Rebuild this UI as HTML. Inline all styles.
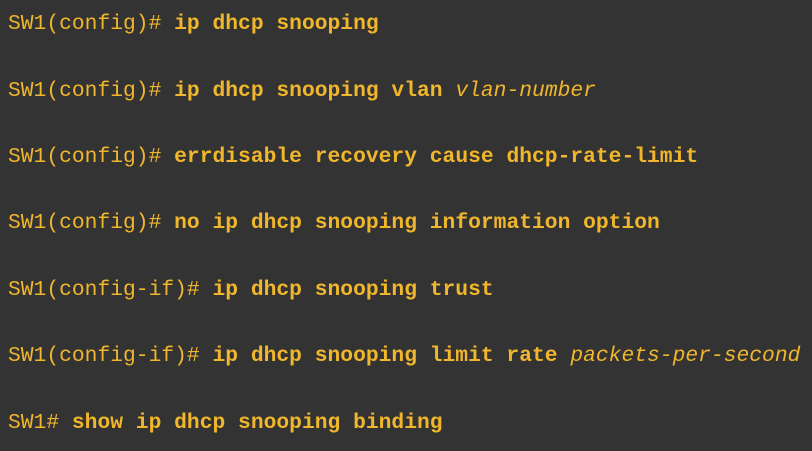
<!DOCTYPE html>
<html><head><style>
html,body{margin:0;padding:0;background:#333333;width:812px;height:451px;overflow:hidden}
.l{position:absolute;left:8px;font-family:"Liberation Mono","DejaVu Sans Mono",monospace;font-size:21.3px;line-height:24px;color:#f0b62c;white-space:pre}
b{font-weight:bold}
i{font-style:italic}
</style></head><body>
<div class="l" style="top:12px">SW1(config)# <b>ip dhcp snooping</b></div>
<div class="l" style="top:79px">SW1(config)# <b>ip dhcp snooping vlan</b> <i>vlan-number</i></div>
<div class="l" style="top:145px">SW1(config)# <b>errdisable recovery cause dhcp-rate-limit</b></div>
<div class="l" style="top:211px">SW1(config)# <b>no ip dhcp snooping information option</b></div>
<div class="l" style="top:278px">SW1(config-if)# <b>ip dhcp snooping trust</b></div>
<div class="l" style="top:344px">SW1(config-if)# <b>ip dhcp snooping limit rate</b> <i>packets-per-second</i></div>
<div class="l" style="top:411px">SW1# <b>show ip dhcp snooping binding</b></div>
</body></html>
